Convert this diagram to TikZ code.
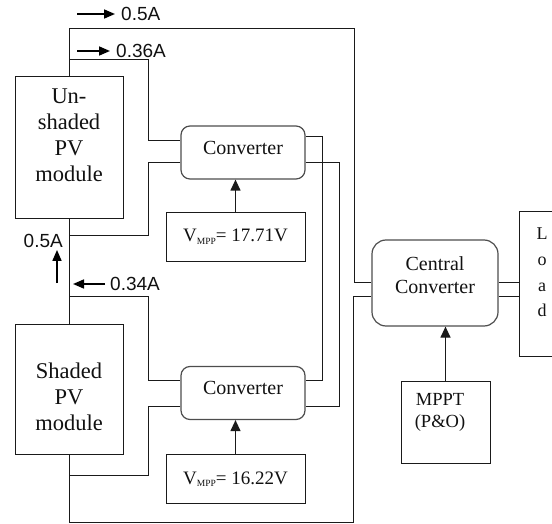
\documentclass[tikz,border=0pt]{standalone}
\usepackage{fontspec}
\setmainfont{Liberation Serif}
\setsansfont{Liberation Sans}
\usetikzlibrary{arrows.meta, positioning}
\definecolor{wirecol}{HTML}{1A1A1A}
\definecolor{convborder}{HTML}{4D4D4D}
\definecolor{textcolor}{HTML}{111111}
\newcommand{\boxfont}{\fontsize{20}{23}\selectfont}
\newcommand{\pvfont}{\fontsize{22.5}{26}\selectfont}
\newcommand{\curfont}{\sffamily\fontsize{19}{23}\selectfont}
\newcommand{\mppsub}{{\fontsize{9.5}{10}\selectfont\raisebox{-2.5pt}{MPP}}}
\tikzset{
  pvbox/.style={
    draw=wirecol,
    line width=1pt,
    minimum width=108pt,
    inner sep=0pt
  },
  pvtext/.style={
    align=center,
    text=textcolor,
    font=\pvfont,
    inner sep=0pt
  },
  boxtext/.style={
    align=center,
    text=textcolor,
    font=\boxfont,
    inner sep=0pt
  },
  convbox/.style={
    draw=convborder,
    line width=1.2pt,
    rounded corners=9pt,
    minimum width=124pt,
    minimum height=53pt,
    text=textcolor,
    font=\boxfont,
    text depth=10pt,
    inner sep=0pt
  },
  ccbox/.style={
    draw=convborder,
    line width=1.2pt,
    rounded corners=14pt,
    minimum width=126pt,
    minimum height=86pt,
    inner sep=0pt
  },
  refbox/.style={
    draw=wirecol,
    line width=1pt,
    minimum width=139pt,
    minimum height=49pt,
    text=textcolor,
    font=\fontsize{19}{23}\selectfont,
    inner sep=0pt
  },
  plainbox/.style={
    draw=wirecol,
    line width=1pt,
    inner sep=0pt
  },
  wire/.style={
    draw=wirecol,
    line width=1pt
  },
  ctrl/.style={
    -{Triangle[length=11pt, width=10pt]},
    line width=1.2pt,
    color=wirecol
  },
  curarrow/.style={
    -{Triangle[length=11pt, width=9pt]},
    line width=1.6pt,
    color=black
  },
  curlabel/.style={
    font=\curfont,
    text=textcolor,
    inner sep=0pt
  }
}

\begin{document}
\begin{tikzpicture}[x=1pt, y=-1pt]
  \useasboundingbox (0,0) rectangle (552,524);

  % ==================== PV MODULES ====================
  \node (unsh) [pvbox, minimum height=142pt, label={[pvtext, yshift=12.5pt]center:Un-\\shaded\\PV\\module}] at (69,148) {};

  \node (sh) [pvbox, minimum height=130pt, label={[pvtext, yshift=-8pt]center:Shaded\\PV\\module}] at (69,389) {};

  % ==================== CONVERTERS ====================
  \node (conv1) [convbox] at (243,152.5) {Converter};

  \node (conv2) [convbox] at (243,393) {Converter};

  \node (vmpp1) [refbox, below=32pt of conv1, xshift=-7.5pt] {V\mppsub= 17.71V};

  \node (vmpp2) [refbox, below=34pt of conv2, xshift=-7.5pt] {V\mppsub= 16.22V};

  % ==================== CENTRAL STAGE ====================
  \node (cc) [ccbox, label={[boxtext, yshift=7.5pt]center:Central\\Converter}] at (435,283) {};

  \node (mppt) [plainbox, minimum width=89pt, minimum height=82pt, below=54pt of cc, xshift=10.5pt, label={[boxtext, font=\fontsize{18.5}{22}\selectfont, xshift=-5.5pt, yshift=10pt]center:MPPT\\(P\&O)}] {};

  \node (load) [plainbox, minimum width=46pt, minimum height=144pt, label={[boxtext, font=\fontsize{18}{25.7}\selectfont, yshift=11.5pt]center:L\\o\\a\\d}] at (542,284) {};

  % Tap points on the string
  \coordinate (tap1) at (69,60);
  \coordinate (tap2) at (69,235);
  \coordinate (tap3) at (69,296);
  \coordinate (tap4) at (69,475);

  % Connectors string
  \draw [wire] (unsh.north) |- (354,29) |- ([yshift=1pt]cc.west);
  \draw [wire] (unsh.south) -- (sh.north);
  \draw [wire] (sh.south) |- (353,522.5) |- ([yshift=-13pt]cc.west);

  % Connectors converter inputs
  \draw [wire] (tap1) -- (148,60) |- ([yshift=12pt]conv1.west);
  \draw [wire] ([yshift=-10.5pt]conv1.west) -| (148,235) -- (tap2);
  \draw [wire] (tap3) -- (148,296) |- ([yshift=13pt]conv2.west);
  \draw [wire] ([yshift=-13.5pt]conv2.west) -| (148,475) -- (tap4);

  % Connectors converter outputs
  \draw [wire] ([yshift=16pt]conv1.east) -- ++(17,0) |- ([yshift=13pt]conv2.east);
  \draw [wire] ([yshift=-10pt]conv1.east) -- ++(34,0) |- ([yshift=-13.5pt]conv2.east);

  % Connectors load
  \draw [wire] ([yshift=1pt]cc.east) -- ([yshift=1pt]cc.east -| load.west);
  \draw [wire] ([yshift=-13pt]cc.east) -- ([yshift=-13pt]cc.east -| load.west);

  % Control arrows
  \draw [ctrl] (vmpp1.north) -- (vmpp1.north |- conv1.south);
  \draw [ctrl] (vmpp2.north) -- (vmpp2.north |- conv2.south);
  \draw [ctrl] (mppt.north) -- (mppt.north |- cc.south);

  % ==================== CURRENTS ====================
  \node (i1) [curlabel, anchor=west] at (121,14) {0.5A};
  \draw [curarrow] ([xshift=-44pt]i1.west) -- ([xshift=-6pt]i1.west);

  \node (i2) [curlabel, anchor=west] at (116,51) {0.36A};
  \draw [curarrow] ([xshift=-39pt]i2.west) -- ([xshift=-6pt]i2.west);

  \node (i3) [curlabel, anchor=east] at (63,241) {0.5A};
  \coordinate (i3tail) at (57,283);
  \draw [curarrow] (i3tail) -- ([yshift=-2pt]i3tail |- i3.south);

  \node (i4) [curlabel, anchor=west] at (110,284) {0.34A};
  \draw [curarrow] ([xshift=-5pt]i4.west) -- ([xshift=-37pt]i4.west);

\end{tikzpicture}
\end{document}
